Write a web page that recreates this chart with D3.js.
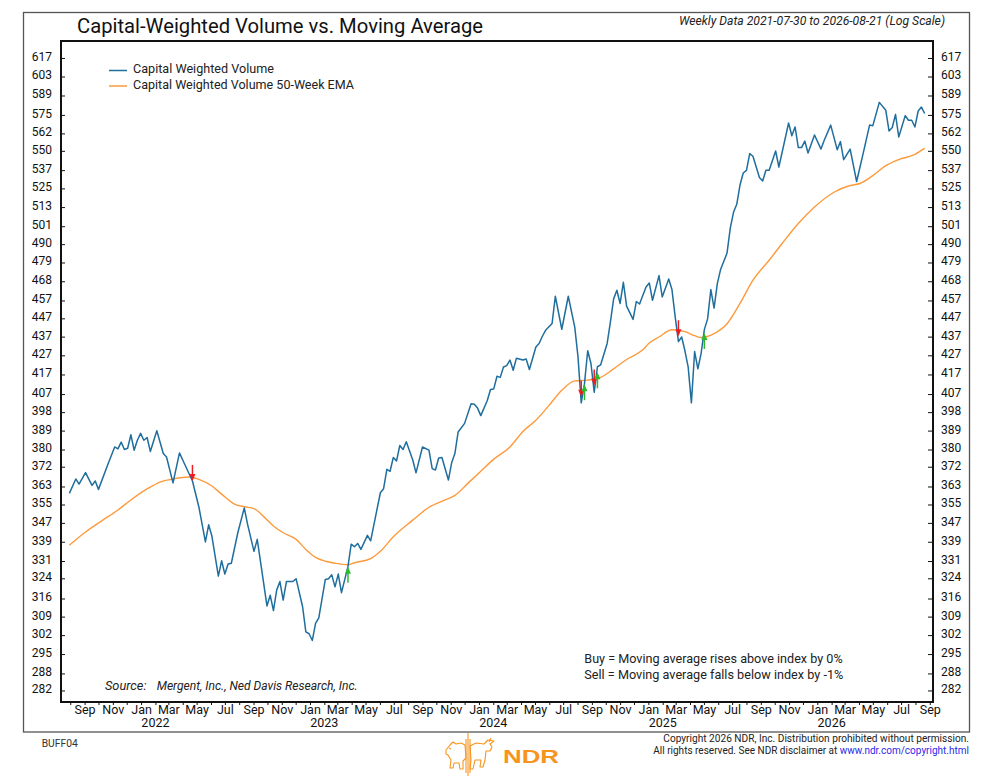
<!DOCTYPE html>
<html><head><meta charset="utf-8">
<script src="https://cdn.jsdelivr.net/npm/d3@7"></script>
<style>
html,body{margin:0;padding:0;background:#fff;}
svg{display:block;font-family:Roboto,"Liberation Sans",Arial,sans-serif;}
</style></head><body>
<svg id="chart" width="991" height="776"></svg>
<script>
// ---------------- DATA ----------------
const startDate = "2021-07-30";   // first weekly observation
const endDate = "2026-08-21";     // last weekly observation
// Capital Weighted Volume: week number (from startDate) and value, read from the chart
const cwvWeek = [0,2,3,5,7,8,9,12,14,15,16,17,18,19,20,21,22,23,24,25,27,29,30,32,34,35,38,40,42,43,44,46,47,48,49,50,52,54,55,57,58,61,62,63,64,65,66,67,69,70,72,73,74,75,76,77,79,80,81,82,83,84,86,87,88,89,90,92,93,96,97,98,99,100,101,102,103,104,106,107,109,111,112,113,114,115,117,118,119,120,122,124,125,126,127,129,130,131,132,133,134,135,136,137,138,140,141,142,144,145,146,147,149,150,152,154,156,157,158,159,160,161,162,163,164,166,167,168,169,170,171,172,174,175,176,178,179,180,182,183,185,186,187,188,189,190,191,192,193,194,195,196,197,198,199,200,201,203,204,205,206,207,208,209,210,211,213,214,215,216,218,219,222,223,224,225,226,227,228,230,232,233,235,237,238,239,241,243,245,247,248,250,252,253,254,255,256,258,259,260,261,262,263,264];
const cwvValue = [359.9,366.4,364.1,369.3,363.5,365.5,361.7,373.5,381.2,380.3,383.5,380.0,380.6,387.0,379.7,384.4,387.7,384.4,385.7,379.1,388.9,378.1,376.5,364.6,378.4,375.1,365.5,353.8,338.9,346.2,341.4,324.9,331.1,325.7,329.8,330.1,342.8,353.5,346.5,335.0,340.0,313.1,317.3,311.3,319.3,322.7,315.4,322.7,322.7,323.8,312.8,303.2,302.5,300.0,306.4,308.5,323.5,323.8,325.4,320.6,325.7,318.3,328.7,338.0,336.9,338.3,335.8,341.7,339.4,360.2,362.0,370.8,369.9,376.3,374.7,381.9,380.0,383.7,375.1,369.2,381.2,379.7,371.1,370.5,376.0,376.3,365.9,373.8,378.1,388.3,392.5,402.2,401.9,400.0,396.3,403.8,409.3,409.6,416.1,415.5,420.9,421.6,424.5,419.2,425.5,424.5,425.1,419.6,431.4,433.3,437.2,440.4,444.1,459.4,441.0,459.4,442.2,426.2,402.6,412.3,429.4,422.7,407.9,421.0,422.0,433.3,444.9,457.9,462.8,455.3,467.4,453.8,446.4,456.4,455.0,464.7,467.0,457.1,471.3,459.0,469.3,463.2,447.8,434.3,436.8,429.4,420.9,402.6,429.0,419.9,428.0,440.8,446.7,463.2,452.7,466.6,474.8,484.6,499.8,509.7,514.8,527.2,535.1,536.9,548.1,546.3,532.1,529.8,536.9,536.9,549.9,539.1,569.3,560.4,566.5,552.2,552.2,556.7,548.5,560.9,551.2,557.2,567.8,550.8,556.3,544.0,551.2,529.5,548.1,567.8,567.4,584.0,578.3,563.7,566.1,575.4,559.5,574.5,571.2,571.2,566.5,577.8,580.6,576.0];
// 50-week EMA
const emaWeek = [0,5,10,15,19,24,28,32,37,40,44,47,51,54,57,60,63,66,70,73,76,79,82,86,88,93,96,100,106,111,116,119,123,127,131,136,140,144,148,152,156,160,164,168,172,177,179,182,186,190,193,195,199,203,207,211,216,220,225,230,236,241,244,248,252,256,261,264];
const emaValue = [337.5,343.1,347.9,352.6,357.0,361.9,365.0,366.4,367.3,366.2,363.2,359.6,355.2,354.0,353.2,349.7,345.7,342.8,340.0,335.8,332.5,330.9,330.1,329.5,330.3,332.0,335.0,341.1,348.2,353.8,357.0,359.0,364.4,369.9,375.5,381.2,388.6,394.0,401.2,408.9,413.7,414.1,415.5,419.9,424.8,429.9,433.6,436.8,440.7,439.7,437.5,436.5,438.6,444.0,455.3,468.6,480.3,490.4,502.7,513.0,522.5,526.9,528.2,533.4,540.0,544.1,547.6,551.8];
// Buy / sell signals
const signalWeek = [38,86,158,159,162,163,188,196];
const signalType = ["sell","buy","sell","buy","sell","buy","sell","buy"];
const signalValue = [365.5,328.7,405.6,412.0,411.4,418.1,437.2,439.0];
// Axis labels
const yTickLabels = [282,288,295,302,309,316,324,331,339,347,355,363,372,380,389,398,407,417,427,437,447,457,468,479,490,501,513,525,537,550,562,575,589,603,617];
const yearLabels = [2022,2023,2024,2025,2026];
const labelledMonths = ["Jan","Mar","May","Jul","Sep","Nov"];
const seriesNames = ["Capital Weighted Volume","Capital Weighted Volume 50-Week EMA"];

// ---------------- LAYOUT ----------------
const svg = d3.select("#chart");
const P = {l:61, t:41, r:933, b:702};
const BLUE = "#1f6e9e", ORANGE = "#fd9a3c";
const parse = d3.utcParse("%Y-%m-%d");
const t0 = parse(startDate), t1 = parse(endDate);
const pad = 18;
const x = d3.scaleUtc().domain([d3.utcDay.offset(t0,-pad), d3.utcDay.offset(t1,pad)]).range([P.l, P.r]);
const y = d3.scaleLog().domain([278.0, 630.1]).range([P.b, P.t]);
const wk = w => d3.utcDay.offset(t0, 7*w);

const cwv = cwvWeek.map((w,i)=>({date:wk(w), value:cwvValue[i]}));
const ema = emaWeek.map((w,i)=>({date:wk(w), value:emaValue[i]}));

function fit(sel, w){ return sel.attr("textLength", w).attr("lengthAdjust","spacingAndGlyphs"); }

// outer frame
svg.append("rect").attr("x",23.5).attr("y",12.5).attr("width",946).attr("height",719.5)
  .attr("fill","none").attr("stroke","#555").attr("stroke-width",1.3);

// title & subtitle
fit(svg.append("text").attr("x",77).attr("y",33).attr("font-size",21).attr("fill","#111")
  .text("Capital-Weighted Volume vs. Moving Average"), 406);
fit(svg.append("text").attr("x",945).attr("y",25).attr("text-anchor","end").attr("font-size",13)
  .attr("font-style","italic").attr("fill","#222")
  .text(`Weekly Data ${startDate} to ${endDate} (Log Scale)`), 266);

// axes
const yl = svg.append("g").attr("transform",`translate(${P.l},0)`)
  .call(d3.axisLeft(y).tickValues(yTickLabels).tickFormat(d3.format("d")).tickSize(-4).tickPadding(9));
const yr = svg.append("g").attr("transform",`translate(${P.r},0)`)
  .call(d3.axisRight(y).tickValues(yTickLabels).tickFormat(d3.format("d")).tickSize(-5).tickPadding(8));
const fmtM = d3.utcFormat("%b");
const xa = svg.append("g").attr("transform",`translate(0,${P.b})`)
  .call(d3.axisBottom(x).ticks(d3.utcMonth.every(1)).tickSize(3).tickPadding(0.5)
    .tickFormat(d => labelledMonths.includes(fmtM(d)) ? fmtM(d) : ""));
[yl,yr,xa].forEach(g=>{
  g.select(".domain").remove();
  g.selectAll(".tick line").attr("stroke","#111");
  g.selectAll("text").attr("fill","#111").attr("font-family","Roboto,sans-serif");
});
yl.selectAll("text").attr("font-size",12).attr("dy","0.2em");
yr.selectAll("text").attr("font-size",12).attr("dy","0.2em");
xa.selectAll("text").attr("font-size",12.5);

svg.append("g").selectAll("text").data(yearLabels).join("text")
  .attr("x", d => x(new Date(Date.UTC(d,1,1)))).attr("y",727).attr("text-anchor","middle")
  .attr("font-size",12.5).attr("fill","#111").text(d=>d);

// plot frame
svg.append("rect").attr("x",P.l).attr("y",P.t).attr("width",P.r-P.l).attr("height",P.b-P.t)
  .attr("fill","none").attr("stroke","#111").attr("stroke-width",2);

// lines
svg.append("path").datum(ema).attr("fill","none").attr("stroke",ORANGE).attr("stroke-width",1.4)
  .attr("d", d3.line().x(d=>x(d.date)).y(d=>y(d.value)).curve(d3.curveMonotoneX));
svg.append("path").datum(cwv).attr("fill","none").attr("stroke",BLUE).attr("stroke-width",1.5)
  .attr("stroke-linejoin","round")
  .attr("d", d3.line().x(d=>x(d.date)).y(d=>y(d.value)));

// signals
const sg = svg.append("g");
signalWeek.forEach((w,i)=>{
  const sx = x(wk(w)), sy = y(signalValue[i]);
  const sell = signalType[i]==="sell";
  const col = sell ? "#ee1c1c" : "#2dbb2d";
  const dir = sell ? -1 : 1;
  sg.append("line").attr("x1",sx).attr("x2",sx).attr("y1",sy+dir*16).attr("y2",sy+dir*4)
    .attr("stroke",col).attr("stroke-width",1.5);
  sg.append("path").attr("d",`M${sx-3},${sy+dir*7}L${sx+3},${sy+dir*7}L${sx},${sy}Z`).attr("fill",col);
});

// legend
const lg = svg.append("g");
[[BLUE,70.5,73,141],[ORANGE,86,89,221]].forEach((r,i)=>{
  lg.append("line").attr("x1",109).attr("x2",127).attr("y1",r[1]).attr("y2",r[1]).attr("stroke",r[0]).attr("stroke-width",1.5);
  fit(lg.append("text").attr("x",133).attr("y",r[2]).attr("font-size",13).attr("fill","#222").text(seriesNames[i]), r[3]);
});

// annotations
fit(svg.append("text").attr("x",105).attr("y",690).attr("font-size",12.5).attr("font-style","italic").attr("fill","#222").text("Source:"),41.5);
fit(svg.append("text").attr("x",156.7).attr("y",690).attr("font-size",12.5).attr("font-style","italic").attr("fill","#222").text("Mergent, Inc., Ned Davis Research, Inc."),201);
fit(svg.append("text").attr("x",584.3).attr("y",662.7).attr("font-size",13).attr("fill","#222").text("Buy = Moving average rises above index by 0%"),258.4);
fit(svg.append("text").attr("x",584.3).attr("y",679.3).attr("font-size",13).attr("fill","#222").text("Sell = Moving average falls below index by -1%"),259);

// footer
fit(svg.append("text").attr("x",41.7).attr("y",746.7).attr("font-size",10.5).attr("fill","#333").text("BUFF04"),36);
fit(svg.append("text").attr("x",969).attr("y",741.7).attr("text-anchor","end").attr("font-size",10.5).attr("fill","#222")
  .text("Copyright 2026 NDR, Inc. Distribution prohibited without permission."),305.7);
const c2 = svg.append("text").attr("x",969).attr("y",754).attr("text-anchor","end").attr("font-size",10.5).attr("fill","#222");
c2.append("tspan").text("All rights reserved. See NDR disclaimer at ");
c2.append("tspan").attr("fill","#2a2ae8").text("www.ndr.com/copyright.html");
fit(c2,315.7);

// NDR logo
const logo = svg.append("g").attr("transform","translate(445,733)").attr("fill","none")
  .attr("stroke","#f7941d").attr("stroke-width",1.1).attr("stroke-linejoin","round");
logo.append("path").attr("d","M23,0V43M21,6V40M25,6V40");
logo.append("path").attr("d","M1,17L5,12L8,9L11,11L16,10L20,12L21,25L18,28L18,36L15,36L14,30L9,30L8,35L5,35L6,27L3,22L1,21Z M4,15L6,16");
logo.append("path").attr("d","M25,13L31,10L39,11L43,7L49,8L45,11L47,14L45,18L41,18L40,27L38,34L35,34L36,27L30,27L28,36L25,36L26,27Z M44,9L46,5");
fit(svg.append("text").attr("x",503).attr("y",763).attr("font-size",19).attr("font-weight","bold")
  .attr("fill","#f7941d").attr("font-family","'Liberation Sans',Arial,sans-serif").text("NDR"), 56);
</script>
</body></html>
